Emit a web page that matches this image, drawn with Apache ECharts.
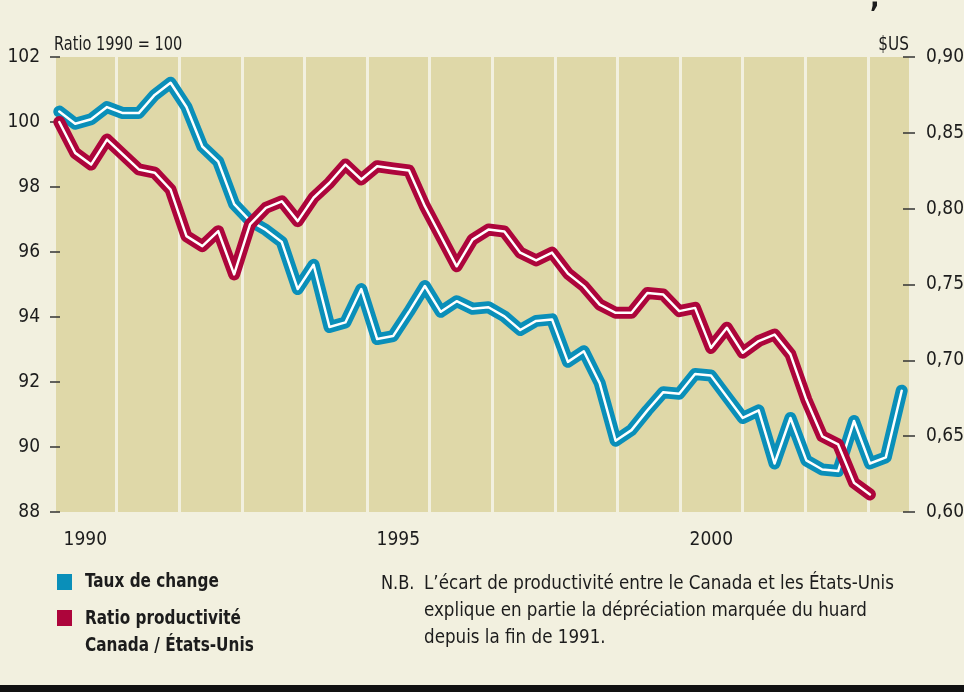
<!DOCTYPE html>
<html>
<head>
<meta charset="utf-8">
<script src="https://cdn.jsdelivr.net/npm/echarts@6/dist/echarts.min.js"></script>
<style>
html, body { margin: 0; padding: 0; background: #f2f0df; }
#chart { width: 964px; height: 692px; }
</style>
</head>
<body>
<div id="chart"></div>
<script>
// trimestres, T1 1990 -> T2 2003
var quarters = [
  '1990 T1', '1990 T2', '1990 T3', '1990 T4', '1991 T1', '1991 T2', '1991 T3', '1991 T4',
  '1992 T1', '1992 T2', '1992 T3', '1992 T4', '1993 T1', '1993 T2', '1993 T3', '1993 T4',
  '1994 T1', '1994 T2', '1994 T3', '1994 T4', '1995 T1', '1995 T2', '1995 T3', '1995 T4',
  '1996 T1', '1996 T2', '1996 T3', '1996 T4', '1997 T1', '1997 T2', '1997 T3', '1997 T4',
  '1998 T1', '1998 T2', '1998 T3', '1998 T4', '1999 T1', '1999 T2', '1999 T3', '1999 T4',
  '2000 T1', '2000 T2', '2000 T3', '2000 T4', '2001 T1', '2001 T2', '2001 T3', '2001 T4',
  '2002 T1', '2002 T2', '2002 T3', '2002 T4', '2003 T1', '2003 T2'
]
// Taux de change, $US (axe de droite)
var tauxChange = [
  0.864, 0.856, 0.859, 0.867, 0.863, 0.863, 0.875, 0.883, 0.867, 0.841,
  0.831, 0.803, 0.792, 0.786, 0.778, 0.747, 0.763, 0.722, 0.725, 0.747,
  0.714, 0.716, 0.732, 0.749, 0.732, 0.739, 0.734, 0.735, 0.729, 0.720,
  0.726, 0.727, 0.699, 0.706, 0.685, 0.647, 0.654, 0.667, 0.679, 0.678,
  0.691, 0.690, 0.676, 0.662, 0.667, 0.632, 0.662, 0.634, 0.628, 0.627,
  0.660, 0.632, 0.636, 0.680
]
// Ratio productivite Canada / Etats-Unis, 1990 = 100 (axe de gauche)
var ratioProd = [
  100.0, 99.05, 98.69, 99.46, 99.0, 98.54, 98.44, 97.92, 96.49, 96.18,
  96.64, 95.31, 96.85, 97.36, 97.56, 96.95, 97.67, 98.13, 98.69, 98.23,
  98.64, 98.57, 98.51, 97.41, 96.49, 95.56, 96.38, 96.69, 96.63, 95.98,
  95.74, 95.98, 95.34, 94.95, 94.38, 94.13, 94.13, 94.74, 94.69, 94.18,
  94.28, 93.05, 93.67, 92.9, 93.26, 93.46, 92.85, 91.46, 90.33, 90.08,
  88.90, 88.54
]
var yearLabels = [1990, 1995, 2000]

var FONT = "'Liberation Sans Narrow', 'DejaVu Sans Condensed', sans-serif"
var INK = '#1c1c1c'
var BLUE = '#0a8fb9'
var RED = '#ad053b'
var PAGE = '#f2f0df'

var chart = echarts.init(document.getElementById('chart'))

function lineSeries(name, data, yIndex, color, width, z) {
  return {
    name: name,
    type: 'line',
    xAxisIndex: 1,
    yAxisIndex: yIndex,
    data: data,
    symbol: 'none',
    silent: true,
    z: z,
    lineStyle: { color: color, width: width, join: 'round', cap: 'round' }
  }
}

// texte condense : on resserre horizontalement (pas de police etroite installee)
function label(x, y, text, size, opts) {
  opts = opts || {}
  return {
    type: 'text',
    x: x,
    y: y,
    scaleX: opts.sx || 0.88,
    style: {
      text: text,
      font: (opts.bold ? 'bold ' : '') + size + 'px ' + FONT,
      fill: INK,
      align: opts.align || 'left',
      verticalAlign: 'middle'
    }
  }
}

var option = {
  backgroundColor: PAGE,
  animation: false,
  grid: [
    { left: 54, top: 57, width: 856, height: 455, show: true, backgroundColor: '#dfd8a8', borderWidth: 0, outerBoundsMode: 'none', containLabel: false },
    { left: 59.3, top: 57, width: 842.4, height: 455, outerBoundsMode: 'none', containLabel: false }
  ],
  xAxis: [
    {
      type: 'value',
      gridIndex: 0,
      min: 1990,
      max: 2003.674,
      interval: 1,
      axisLine: { show: false },
      axisTick: { show: false },
      splitLine: { show: true, lineStyle: { color: PAGE, width: 3 } },
      axisLabel: {
        customValues: yearLabels.map(function(y) { return y + 0.5 }),
        formatter: function(v) { return String(Math.floor(v)) },
        margin: 19,
        fontFamily: FONT,
        fontSize: 19,
        color: INK
      }
    },
    {
      type: 'category',
      gridIndex: 1,
      data: quarters,
      boundaryGap: false,
      show: false
    }
  ],
  yAxis: [
    {
      type: 'value',
      gridIndex: 0,
      position: 'left',
      min: 88,
      max: 102,
      interval: 2,
      offset: -6,
      axisLine: { show: false },
      axisTick: { show: true, length: 10, lineStyle: { color: '#333', width: 1.5 } },
      splitLine: { show: false },
      axisLabel: { margin: 20, fontFamily: FONT, fontSize: 19, color: INK }
    },
    {
      type: 'value',
      gridIndex: 0,
      position: 'right',
      min: 0.6,
      max: 0.9,
      interval: 0.05,
      offset: -7,
      axisLine: { show: false },
      axisTick: { show: true, length: 12, lineStyle: { color: '#333', width: 1.5 } },
      splitLine: { show: false },
      axisLabel: {
        margin: 23,
        fontFamily: FONT,
        fontSize: 19,
        color: INK,
        formatter: function(v) { return v.toFixed(2).replace('.', ',') }
      }
    },
    { type: 'value', gridIndex: 1, min: 88, max: 102, show: false },
    { type: 'value', gridIndex: 1, min: 0.6, max: 0.9, show: false }
  ],
  series: [
    lineSeries('Taux de change', tauxChange, 3, BLUE, 12, 2),
    lineSeries('Taux de change (centre)', tauxChange, 3, '#ffffff', 2.5, 3),
    lineSeries('Ratio productivité Canada / États-Unis', ratioProd, 2, RED, 12, 4),
    lineSeries('Ratio productivité (centre)', ratioProd, 2, '#ffffff', 2.5, 5)
  ],
  graphic: [
    { type: 'text', left: 870, top: -14, style: { text: ',', font: 'bold 28px ' + FONT, fill: INK } },
    label(54, 45, 'Ratio 1990 = 100', 20, { sx: 0.81 }),
    label(909, 45, '$US', 20, { sx: 0.85, align: 'right' }),
    { type: 'rect', shape: { x: 57, y: 574, width: 15, height: 16 }, style: { fill: BLUE } },
    label(85, 582, 'Taux de change', 20, { bold: true, sx: 0.85 }),
    { type: 'rect', shape: { x: 57, y: 610, width: 15, height: 16 }, style: { fill: RED } },
    label(85, 619, 'Ratio productivité', 20, { bold: true, sx: 0.85 }),
    label(85, 646, 'Canada / États-Unis', 20, { bold: true, sx: 0.85 }),
    label(381, 584, 'N.B.', 20, { sx: 0.9 }),
    label(424, 584, 'L\u2019écart de productivité entre le Canada et les États-Unis', 20, { sx: 0.93 }),
    label(424, 611, 'explique en partie la dépréciation marquée du huard', 20, { sx: 0.93 }),
    label(424, 638, 'depuis la fin de 1991.', 20, { sx: 0.93 }),
    { type: 'rect', shape: { x: 0, y: 685, width: 964, height: 7 }, style: { fill: '#111111' } }
  ]
}

chart.setOption(option)
</script>
</body>
</html>
